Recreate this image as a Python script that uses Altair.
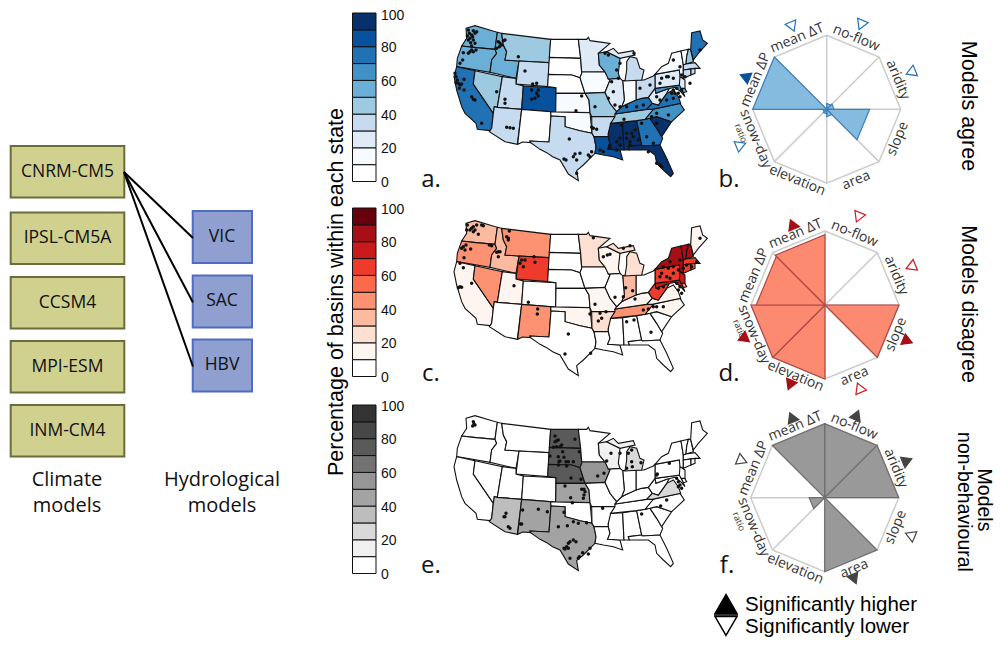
import math
import altair as alt
import pandas as pd

alt.data_transformers.disable_max_rows()

# ---------- flow diagram ----------
climate_models = ["CNRM-CM5", "IPSL-CM5A", "CCSM4", "MPI-ESM", "INM-CM4"]
climate_tops = [146, 212.5, 277, 341, 405]
hydro_models = ["VIC", "SAC", "HBV"]
hydro_tops = [211, 275.5, 339.5]

# ---------- colour ramps ----------
BLUES = ["#FFFFFF", "#F7FBFF", "#DEEBF7", "#C6DBEF", "#9ECAE1", "#6BAED6", "#4292C6", "#2171B5", "#08519C", "#08306B"]
REDS = ["#FFFFFF", "#FFF5F0", "#FEE0D2", "#FCBBA1", "#FC9272", "#FB6A4A", "#EF3B2C", "#CB181D", "#A50F15", "#67000D"]
GREYS = ["#FFFFFF", "#F0F0F0", "#D9D9D9", "#BDBDBD", "#A3A3A3", "#969696", "#737373", "#5A5A5A", "#474747", "#333333"]
bar_ticks = [0, 20, 40, 60, 80, 100]

# ---------- state outlines (panel a zoom units) ----------
STATES = {
    "WA": [(78,55),(105,47),(172,67),(165,118),(100,112),(65,108),(80,85)],
    "OR": [(65,108),(100,112),(165,118),(170,130),(155,150),(150,187),(50,170),(52,145)],
    "CA": [(50,170),(105,182),(100,222),(160,310),(155,355),(150,362),(112,358),(108,340),(75,310),(65,290),(50,240),(42,200)],
    "NV": [(105,182),(187,200),(172,292),(163,290),(160,310),(100,222)],
    "ID": [(172,67),(185,70),(190,105),(200,125),(195,150),(237,153),(228,205),(150,187),(155,150),(170,130),(165,118)],
    "MT": [(185,70),(332,88),(328,158),(237,153),(195,150),(200,125),(190,105)],
    "WY": [(237,153),(328,158),(323,230),(228,222)],
    "UT": [(187,200),(228,205),(228,222),(250,228),(245,298),(172,292)],
    "CO": [(250,228),(348,233),(347,306),(245,298)],
    "AZ": [(172,292),(245,298),(232,403),(195,395),(148,365),(155,355),(160,310),(163,290)],
    "NM": [(245,298),(332,305),(333,318),(327,396),(270,393),(272,398),(248,396),(233,403)],
    "ND": [(332,88),(415,88),(422,145),(328,142)],
    "SD": [(328,142),(422,145),(425,190),(420,203),(395,195),(325,193)],
    "NE": [(325,193),(395,195),(420,203),(435,250),(348,250),(348,233),(323,230)],
    "KS": [(348,250),(435,250),(447,270),(450,308),(347,306)],
    "OK": [(332,305),(347,306),(450,308),(456,370),(420,362),(375,350),(375,320),(333,318)],
    "TX": [(333,318),(375,320),(375,350),(420,362),(456,370),(462,380),(468,410),(465,430),(430,465),(410,482),(415,512),(385,492),(360,450),(338,440),(320,428),(300,418),(272,398),(270,393),(327,396)],
    "MN": [(415,88),(440,88),(445,82),(450,92),(510,100),(475,130),(478,165),(495,186),(425,186),(422,145)],
    "IA": [(425,186),(495,186),(510,210),(500,235),(495,247),(435,250),(420,203),(425,190)],
    "MO": [(435,250),(495,247),(510,280),(530,305),(525,320),(512,320),(455,320),(450,308),(447,270)],
    "AR": [(455,320),(525,320),(505,370),(505,380),(462,380),(456,370)],
    "LA": [(462,380),(505,380),(510,400),(503,418),(540,420),(548,450),(520,440),(490,435),(465,430),(468,410)],
    "MS": [(512,340),(548,338),(552,420),(540,420),(503,418),(510,400),(505,380),(505,370)],
    "AL": [(548,338),(590,332),(605,405),(565,410),(568,420),(552,420)],
    "GA": [(590,332),(630,325),(650,355),(668,385),(660,405),(607,408),(605,405)],
    "FL": [(565,410),(605,405),(607,408),(660,405),(680,445),(700,490),(692,500),(670,480),(650,460),(645,435),(625,420),(600,420),(568,420)],
    "SC": [(630,325),(650,320),(695,335),(665,380),(650,355)],
    "NC": [(637,298),(720,280),(733,300),(695,335),(650,320),(630,325),(615,328)],
    "TN": [(525,312),(620,298),(640,298),(615,328),(590,332),(512,340),(525,320)],
    "KY": [(525,312),(530,305),(545,290),(555,285),(588,270),(605,265),(625,262),(637,280),(620,298)],
    "VA": [(620,298),(637,280),(655,285),(680,250),(700,240),(715,260),(722,280),(637,298)],
    "WV": [(625,262),(645,235),(648,250),(680,238),(690,232),(680,250),(655,285),(637,280)],
    "MD": [(645,235),(720,225),(735,260),(722,245),(705,232),(680,238),(648,250)],
    "DE": [(720,225),(730,228),(740,245),(730,248)],
    "PA": [(645,193),(718,180),(730,208),(720,225),(645,235)],
    "NJ": [(720,200),(735,210),(735,235),(723,235),(718,225)],
    "NY": [(645,193),(665,170),(685,160),(695,130),(723,123),(730,165),(730,205),(720,200),(718,180)],
    "VT": [(723,123),(745,118),(740,140),(738,162),(730,165)],
    "NH": [(745,118),(752,118),(760,155),(738,162),(740,140)],
    "ME": [(755,68),(780,63),(788,90),(802,100),(775,130),(760,150),(752,118)],
    "MA": [(730,165),(738,162),(765,158),(780,175),(765,175),(730,180)],
    "CT": [(730,180),(753,177),(753,195),(730,205)],
    "RI": [(753,177),(765,175),(765,190),(753,195)],
    "OH": [(588,210),(612,210),(640,198),(645,193),(645,235),(625,262),(605,265),(588,270)],
    "IN": [(548,212),(588,210),(588,270),(555,285),(545,290),(553,270)],
    "IL": [(505,207),(540,205),(548,212),(553,270),(545,290),(530,305),(510,280),(495,247),(500,235),(510,210)],
    "WI": [(475,130),(500,125),(540,145),(535,190),(540,205),(505,207),(495,186),(478,165)],
    "MIL": [(560,155),(570,140),(590,145),(600,175),(612,180),(605,210),(555,213),(560,180)],
    "MIU": [(500,125),(520,115),(535,130),(580,122),(585,135),(540,145)],
}

# percentage bin (0-9) per state
AGREE = dict(WA=5,OR=5,ID=5,CA=7,NV=4,MT=4,WY=3,UT=3,CO=8,AZ=3,NM=0,ND=0,SD=0,NE=0,KS=1,OK=1,TX=3,MN=2,IA=1,MO=4,AR=3,LA=8,
             WI=5,IL=2,MIL=3,MIU=2,IN=1,OH=3,KY=7,TN=4,MS=9,AL=9,GA=7,FL=9,SC=9,NC=6,VA=7,WV=2,PA=2,NY=1,VT=1,NH=4,ME=7,MA=3,CT=3,RI=3,NJ=2,DE=5,MD=6)
DISAGREE = dict(WA=3,OR=4,ID=3,MT=4,WY=6,CA=1,NV=4,UT=1,NM=4,OK=1,MN=2,WI=1,MIL=2,MIU=2,IN=3,MO=1,AR=2,KY=1,TN=4,VA=1,NC=1,WV=6,PA=6,
                NY=8,VT=8,NH=8,ME=1,MA=6,CT=6,RI=5,NJ=7,MD=7,DE=4)
NONBEH = dict(ND=7,SD=7,NE=7,KS=4,IA=5,TX=4,NM=4,AZ=3,WI=1,MIL=2,MIU=1,VA=2)

# basin locations
DOTS_A = [(85,60),(88,70),(82,78),(90,85),(95,75),(100,62),(105,70),(100,90),(92,98),(105,100),(110,65),(95,108),(85,90),(98,80),
 (90,125),(100,125),(85,130),(70,128),(68,150),(60,160),(108,120),(95,120),(175,95),(180,100),(178,110),(190,92),(185,105),(170,115),(195,90),
 (235,140),(255,183),(290,220),(278,222),(195,268),(195,280),(275,240),(295,240),(290,250),(285,265),(275,268),(295,258),(170,245),
 (45,190),(48,200),(52,210),(60,225),(58,235),(72,208),(72,240),(95,260),(100,268),(105,270),(125,340),(48,218),(55,220),(65,222),
 (200,352),(210,353),(220,355),(388,387),(372,447),(378,450),(405,432),(420,430),(400,440),(410,450),(445,435),(455,425),(450,440),(410,490),
 (425,258),(408,302),(465,290),(505,265),(455,352),(460,355),(470,358),(480,420),(490,425),(510,415),(530,420),
 (510,405),(530,395),(540,385),(545,345),(540,405),(560,385),(570,395),(580,380),(585,360),(560,370),(575,370),(570,405),
 (605,340),(620,380),(640,400),(595,390),(650,340),(625,425),(650,460),(660,465),(665,470),(635,320),(685,315),(650,310),
 (660,270),(680,270),(695,250),(700,240),(710,235),(715,250),(720,260),(700,265),(705,250),(725,240),(560,290),(590,290),(610,285),(552,328),(650,260),
 (600,235),(630,225),(665,205),(685,200),(700,205),(660,220),(700,150),(720,170),(680,200),(750,220),(735,200),(725,195),
 (515,215),(520,245),(540,290),(525,285),(495,130),(505,135),(530,180),(535,205),(540,160),(582,130),(780,120)]
DOTS_C = [(82,60),(90,75),(95,70),(105,75),(100,80),(115,88),(110,60),(125,60),(130,62),(80,75),(100,65),
 (70,125),(78,120),(75,135),(65,130),(92,132),(72,158),(148,120),(155,122),(175,140),(180,140),(170,142),(175,155),(205,100),(208,78),(205,105),(200,95),
 (255,165),(250,185),(282,155),(285,172),(240,175),(245,165),(60,175),(70,188),(55,248),(65,247),(60,245),(95,235),(222,242),(265,292),(293,312),(292,327),
 (385,387),(375,447),(452,445),(460,98),(502,150),(490,155),(510,148),(550,130),(570,122),(557,248),(578,257),(550,275),(525,277),(465,298),(450,327),
 (480,325),(485,340),(475,348),(498,320),(585,282),(560,350),(582,345),(633,382),(610,315),(625,312),(640,305),(650,305),(670,305),
 (670,185),(685,190),(700,185),(715,195),(730,190),(690,170),(720,165),(660,215),(680,215),(690,220),(665,205),(700,205),
 (670,245),(655,250),(710,235),(720,245),(715,255),(725,265),(740,180),(755,185),(780,100),(770,170)]
DOTS_E = [(100,65),(102,72),(98,78),(105,75),(345,108),(350,122),(355,120),(345,125),(365,135),(350,140),(340,142),(405,118),(360,140),
 (368,155),(330,168),(355,170),(372,172),(385,185),(357,185),(378,185),(400,185),(418,155),(360,183),(355,195),(380,198),(393,234),(423,238),(473,228),(492,220),
 (375,258),(425,268),(432,268),(435,275),(432,285),(392,293),(430,295),(397,308),(500,183),(513,160),(540,160),(575,150),(565,160),(575,185),(577,200),(603,188),(560,205),
 (248,330),(295,328),(322,335),(242,372),(245,372),(198,340),(195,350),(205,380),(210,385),(192,350),(400,365),(415,370),(440,368),(372,337),
 (355,380),(382,377),(375,447),(380,440),(385,430),(390,425),(400,420),(408,425),(385,445),(372,445),(418,470),(428,458),(415,475),(450,445),(390,475),(445,462),
 (488,325),(680,300),(662,318),(605,342),(650,225),(688,190),(652,222),(710,235),(715,245),(720,255),(725,265),(715,260)]

# ---------- radar values (fraction of the full radius) ----------
SECTORS = ["no-flow", "aridity", "slope", "area", "elevation", "snow-day", "mean \u0394P", "mean \u0394T"]
RADAR_B = [0.08, 0.10, 0.58, 0.10, 0.06, 0.05, 1.0, 0.0]
RADAR_D = [0.0, 0.0, 1.0, 0.0, 1.0, 1.0, 0.93, 0.95]
RADAR_F = [1.0, 1.0, 0.0, 1.0, 0.0, 0.21, 0.0, 1.0]
# significance marks: 1 higher, -1 lower, per sector, with their position on the page
SIG_B = {"mean \u0394T": (-1, 792.3, 26.7), "no-flow": (-1, 861, 25), "aridity": (-1, 910.7, 72.3), "mean \u0394P": (1, 745, 76.7), "snow-day": (-1, 741, 145)}
SIG_D = {"mean \u0394T": (1, 792.3, 224.3), "no-flow": (-1, 858.3, 217.3), "aridity": (-1, 910.7, 266.7), "slope": (1, 907.7, 341),
         "area": (-1, 859.3, 387.7), "elevation": (1, 790, 385), "snow-day": (1, 742.7, 338.3)}
SIG_F = {"mean \u0394T": (1, 791.7, 417.3), "no-flow": (1, 856.7, 415), "aridity": (1, 907.3, 460.7), "slope": (-1, 910, 535),
         "area": (1, 854.3, 579), "mean \u0394P": (-1, 742.3, 460.7)}

MAP_X0, MAP_Y0 = 440, 10
ORIGIN = 8
R = 74

X = alt.X("x:Q", scale=alt.Scale(domain=[8, 996], nice=False, zero=False), axis=None)
Y = alt.Y("y:Q", scale=alt.Scale(domain=[8, 638], nice=False, zero=False, reverse=True), axis=None)
PROJ = dict(type="identity", scale=1, translate=[0, 0])
layers = []


def poly(pts, **props):
    ring = [[p[0] - ORIGIN, p[1] - ORIGIN] for p in pts]
    ring = ring + [ring[0]]
    return {"type": "Feature", "geometry": {"type": "Polygon", "coordinates": [ring]}, "properties": props}


def texts(rows, font, color="#000000", **kw):
    df = pd.DataFrame(rows, columns=["x", "y", "t", "size", "angle"])
    return alt.Chart(df).mark_text(font=font, color=color, baseline="middle", **kw).encode(
        x=X, y=Y, text="t:N",
        size=alt.Size("size:Q", scale=None),
        angle=alt.Angle("angle:Q", scale=None),
    )


# flow diagram
rows = []
for t, top in zip(climate_models, climate_tops):
    rows.append(dict(x=10.7, x2=124.3, y=top, y2=top + 51.5, f="#D0D08F", s="#6B6B3E"))
for t, top in zip(hydro_models, hydro_tops):
    rows.append(dict(x=192.7, x2=252, y=top, y2=top + 52, f="#8E9FD0", s="#4F6BC4"))
layers.append(alt.Chart(pd.DataFrame(rows)).mark_rect(strokeWidth=2).encode(
    x=X, x2="x2:Q", y=Y, y2="y2:Q",
    fill=alt.Fill("f:N", scale=None), stroke=alt.Stroke("s:N", scale=None)))

links = pd.DataFrame([dict(x=124, y=172, x2=193, y2=top + 27) for top in hydro_tops])
layers.append(alt.Chart(links).mark_rule(color="#000000", strokeWidth=2).encode(x=X, x2="x2:Q", y=Y, y2="y2:Q"))

rows = [(67.5, top + 25.5, t, 17.5, 0) for t, top in zip(climate_models, climate_tops)]
rows += [(222, top + 25.5, t, 17.5, 0) for t, top in zip(hydro_models, hydro_tops)]
rows += [(67, 480, "Climate", 20, 0), (67, 506, "models", 20, 0), (222, 480, "Hydrological", 20, 0), (222, 506, "models", 20, 0)]
rows += [(431, 180, "a.", 24, 0), (729, 180, "b.", 24, 0), (431, 374, "c.", 24, 0), (729, 374, "d.", 24, 0), (431, 566, "e.", 24, 0), (727, 566, "f.", 24, 0)]
layers.append(texts(rows, "Open Sans", "#111111"))

# colour bars
bar_tops = [13, 208, 405]
rows = []
label_rows = []
for ramp, top in zip([BLUES, REDS, GREYS], bar_tops):
    step = 168.5 / 10
    for i, c in enumerate(ramp):
        rows.append(dict(x=352.5, x2=376, y=top + 168.5 - (i + 1) * step, y2=top + 168.5 - i * step, f=c))
    for v in bar_ticks:
        label_rows.append((381, max(16, top + 1.5 + 168.5 * (1 - v / 100)), str(v), 14, 0))
layers.append(alt.Chart(pd.DataFrame(rows)).mark_rect(stroke="#111111", strokeWidth=1).encode(
    x=X, x2="x2:Q", y=Y, y2="y2:Q", fill=alt.Fill("f:N", scale=None)))
layers.append(texts(label_rows, "Liberation Sans", "#111111", align="left"))

side = [(337, 292, "Percentage of basins within each state", 21.5, -90),
        (968, 106, "Models agree", 21.5, 90), (968, 304, "Models disagree", 21.5, 90),
        (984, 500, "Models", 19.5, 90), (964, 502, "non-behavioural", 19.5, 90)]
layers.append(texts(side, "Liberation Sans"))

# maps
for bins, ramp, dots, off in [(AGREE, BLUES, DOTS_A, 0), (DISAGREE, REDS, DOTS_C, 195), (NONBEH, GREYS, DOTS_E, 390)]:
    feats = []
    for name, pts in STATES.items():
        page = [(MAP_X0 + a / 3, MAP_Y0 + off + b / 3) for a, b in pts]
        feats.append(poly(page, state=name, fill=ramp[bins.get(name, 0)]))
    layers.append(alt.Chart(alt.Data(values=feats)).mark_geoshape(stroke="#111111", strokeWidth=1.1).encode(
        fill=alt.Fill("properties.fill:N", scale=None)).project(**PROJ))
    d = pd.DataFrame([dict(x=MAP_X0 + a / 3, y=MAP_Y0 + off + b / 3) for a, b in dots])
    layers.append(alt.Chart(d).mark_circle(color="#111111", size=12, opacity=1).encode(x=X, y=Y))


# radars
def vertex(cx, cy, r, deg):
    a = math.radians(deg)
    return (cx + r * math.sin(a), cy - r * math.cos(a))


for cx, cy, vals, sig, fill, stroke, hi, lo in [
    (826.7, 109.3, RADAR_B, SIG_B, "#85BBDE", "#3D7FBD", "#08519C", "#2171B5"),
    (825, 305, RADAR_D, SIG_D, "#FB8A70", "#B04848", "#A50F15", "#CB181D"),
    (824.7, 497.7, RADAR_F, SIG_F, "#999999", "#6E6E6E", "#444444", "#444444"),
]:
    # frame
    rows = []
    for k in range(9):
        vx, vy = vertex(cx, cy, R, k * 45)
        rows.append(dict(x=vx, y=vy, g="frame", o=k))
    for k in range(4):
        for j, deg in enumerate([k * 45, k * 45 + 180]):
            vx, vy = vertex(cx, cy, R, deg)
            rows.append(dict(x=vx, y=vy, g=f"spoke{k}", o=j))
    layers.append(alt.Chart(pd.DataFrame(rows)).mark_line(color="#CCCCCC", strokeWidth=1.5).encode(
        x=X, y=Y, detail="g:N", order="o:Q"))
    # wedges
    feats = []
    for i, v in enumerate(vals):
        if v > 0:
            feats.append(poly([(cx, cy), vertex(cx, cy, R * v, i * 45), vertex(cx, cy, R * v, i * 45 + 45)], name=SECTORS[i]))
    layers.append(alt.Chart(alt.Data(values=feats)).mark_geoshape(fill=fill, stroke=stroke, strokeWidth=1.2, fillOpacity=1).project(**PROJ))
    # labels
    rows = []
    for i, name in enumerate(SECTORS):
        mid = i * 45 + 22.5
        lx, ly = vertex(cx, cy, R + 3, mid)
        ang = (mid - 180) % 360 if 90 < mid < 270 else mid
        rows.append((lx, ly, name, 14, ang))
        if name == "snow-day":
            rx, ry = vertex(cx, cy, R + 15, mid + 7)
            rows.append((rx, ry, "ratio", 9, ang))
    layers.append(texts(rows, "Open Sans", "#333333"))
    # significance triangles
    rows = []
    for name, (s, tx, ty) in sig.items():
        mid = SECTORS.index(name) * 45 + 22.5
        rows.append(dict(x=tx, y=ty, a=(mid if s > 0 else mid + 180) % 360,
                         f=hi if s > 0 else "#FFFFFF", s=hi if s > 0 else lo))
    layers.append(alt.Chart(pd.DataFrame(rows)).mark_point(shape="triangle-up", size=130, filled=True, strokeWidth=1.2, opacity=1).encode(
        x=X, y=Y, angle=alt.Angle("a:Q", scale=None),
        fill=alt.Fill("f:N", scale=None), stroke=alt.Stroke("s:N", scale=None)))

# key
key = pd.DataFrame([dict(x=726, y=604, a=0, f="#000000"), dict(x=726, y=626, a=180, f="#FFFFFF")])
layers.append(alt.Chart(key).mark_point(shape="triangle-up", size=480, filled=True, stroke="#000000", strokeWidth=1.5, opacity=1).encode(
    x=X, y=Y, angle=alt.Angle("a:Q", scale=None), fill=alt.Fill("f:N", scale=None)))
layers.append(alt.Chart(pd.DataFrame([dict(x=714, x2=738, y=615)])).mark_rule(color="#000000", strokeWidth=1.5).encode(x=X, x2="x2:Q", y=Y))
layers.append(texts([(745, 605, "Significantly higher", 20.5, 0), (745, 627, "Significantly lower", 20.5, 0)], "Liberation Sans", align="left"))

chart = alt.layer(*layers).properties(width=988, height=630, padding=0, autosize=alt.AutoSizeParams(type="none")).configure_view(strokeWidth=0)
chart.save("out.html", embed_options={"renderer": "svg", "actions": False})
